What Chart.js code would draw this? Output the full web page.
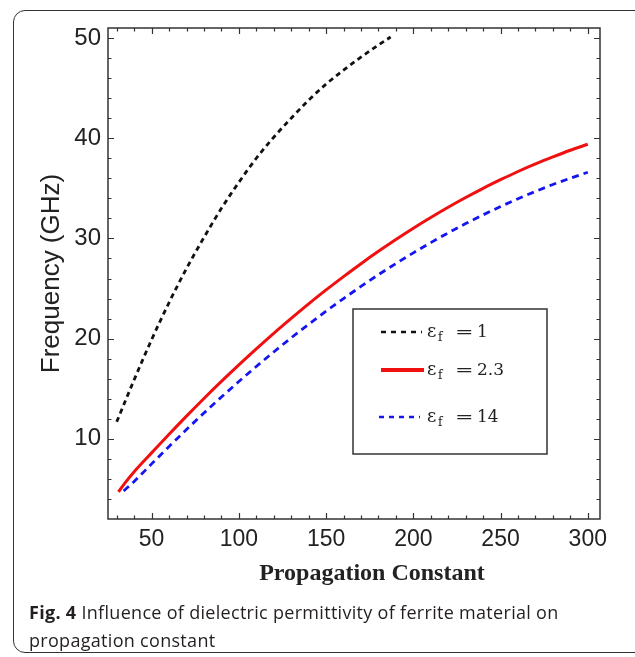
<!DOCTYPE html>
<html>
<head>
<meta charset="utf-8">
<script src="https://cdn.jsdelivr.net/npm/chart.js@4.4.0/dist/chart.umd.min.js"></script>
<style>
  html, body { margin: 0; padding: 0; background: #fff; }
  body { width: 635px; height: 657px; position: relative; overflow: hidden; }
  .frame {
    position: absolute; left: 13px; top: 10px; width: 640px; height: 643px;
    border: 1.5px solid #333; border-radius: 12px; box-sizing: border-box;
  }
  #wrap { position: absolute; left: 0; top: 0; width: 635px; height: 600px; }
  .caption {
    position: absolute; left: 29px; top: 598px; width: 600px;
    font-family: "Open Sans", sans-serif; font-size: 18px; line-height: 28px;
    letter-spacing: 0.3px; color: #231f20;
  }
  .caption b { font-weight: 700; }
</style>
</head>
<body>
<div class="frame"></div>
<div id="wrap"><canvas id="chart"></canvas></div>
<div class="caption"><b>Fig. 4</b> Influence of dielectric permittivity of ferrite material on<br>propagation constant</div>
<script>
// Data
const beta1 = [30, 40, 50, 60, 70, 80, 90, 100, 110, 120, 130, 140, 150, 160, 170, 180, 187];
const freq1 = [11.7, 15.9, 19.9, 23.6, 27.0, 30.1, 33.0, 35.6, 38.0, 40.1, 42.0, 43.8, 45.4, 46.8, 48.1, 49.3, 50.1];

const beta23 = [31, 35, 40, 50, 60, 70, 80, 90, 100, 110, 120, 130, 140, 150, 160, 170, 180, 190, 200, 210, 220, 230, 240, 250, 260, 270, 280, 290, 300];
const freq23 = [4.7, 5.65, 6.72, 8.6, 10.46, 12.27, 14.03, 15.73, 17.38, 18.98, 20.53, 22.02, 23.47, 24.86, 26.19, 27.48, 28.71, 29.89, 31.02, 32.09, 33.11, 34.08, 35.0, 35.86, 36.68, 37.44, 38.14, 38.8, 39.4];

const beta14 = [34, 40, 50, 60, 70, 80, 90, 100, 110, 120, 130, 140, 150, 160, 170, 180, 190, 200, 210, 220, 230, 240, 250, 260, 270, 280, 290, 300];
const freq14 = [4.8, 5.75, 7.5, 9.24, 10.93, 12.58, 14.17, 15.72, 17.22, 18.67, 20.08, 21.43, 22.74, 24.0, 25.21, 26.38, 27.49, 28.56, 29.58, 30.55, 31.48, 32.35, 33.18, 33.96, 34.69, 35.38, 36.01, 36.6];

const xMajor = [50, 100, 150, 200, 250, 300];
const yMajor = [10, 20, 30, 40, 50];
const xMinorStep = 10;
const yMinorStep = 2;

const legendLabels = ['1', '2.3', '14'];

function pts(xs, ys) {
  return xs.map((x, i) => ({ x: x, y: ys[i] }));
}

// inward ticks on all four sides, frame, and the boxed legend
const frameTicks = {
  id: 'frameTicks',
  afterDraw(chart) {
    const ctx = chart.ctx;
    const a = chart.chartArea;
    const xs = chart.scales.x, ys = chart.scales.y;
    ctx.save();
    ctx.strokeStyle = '#333';
    ctx.lineWidth = 1.5;
    ctx.strokeRect(a.left, a.top, a.right - a.left, a.bottom - a.top);
    ctx.lineWidth = 1.2;
    ctx.beginPath();
    for (let v = 30; v <= 300; v += xMinorStep) {
      const px = Math.round(xs.getPixelForValue(v)) + 0.5;
      const len = xMajor.includes(v) ? 6 : 3.5;
      ctx.moveTo(px, a.bottom); ctx.lineTo(px, a.bottom - len);
      ctx.moveTo(px, a.top); ctx.lineTo(px, a.top + len);
    }
    for (let v = 4; v <= 50; v += yMinorStep) {
      const py = Math.round(ys.getPixelForValue(v)) + 0.5;
      const len = yMajor.includes(v) ? 6 : 3.5;
      ctx.moveTo(a.left, py); ctx.lineTo(a.left + len, py);
      ctx.moveTo(a.right, py); ctx.lineTo(a.right - len, py);
    }
    ctx.stroke();

    // legend box
    const bx = 353, by = 309, bw = 194, bh = 145;
    ctx.lineWidth = 1.5;
    ctx.strokeStyle = '#333';
    ctx.strokeRect(bx, by, bw, bh);
    const rows = [
      { y: 332, color: '#111', dash: [5, 5], width: 2.5, x0: 381, x1: 422 },
      { y: 370, color: '#f01010', dash: [], width: 4, x0: 381, x1: 424 },
      { y: 417, color: '#1515f0', dash: [5, 5], width: 2.5, x0: 379, x1: 420 }
    ];
    rows.forEach((r, i) => {
      ctx.beginPath();
      ctx.setLineDash(r.dash);
      ctx.strokeStyle = r.color;
      ctx.lineWidth = r.width;
      ctx.moveTo(r.x0, r.y); ctx.lineTo(r.x1, r.y);
      ctx.stroke();
      ctx.setLineDash([]);
      const base = r.y + 5;
      ctx.fillStyle = '#222';
      ctx.textBaseline = 'alphabetic';
      ctx.textAlign = 'left';
      ctx.font = '18px "DejaVu Serif", serif';
      ctx.fillText('\u03b5', 427, base);
      ctx.font = '12px "DejaVu Serif", serif';
      ctx.fillText('f', 438, base + 4);
      ctx.font = '17px "DejaVu Serif", serif';
      ctx.save();
      ctx.translate(455, 0);
      ctx.scale(1.3, 1);
      ctx.fillText('=', 0, base);
      ctx.restore();
      ctx.fillText(legendLabels[i], 477, base);
    });
    ctx.restore();
  }
};

const ctx = document.getElementById('chart').getContext('2d');
const chart = new Chart(ctx, {
  type: 'line',
  data: {
    datasets: [{
      label: '\u03b5f = 1',
      data: pts(beta1, freq1),
      borderColor: '#111',
      borderWidth: 2.8,
      borderDash: [5, 4],
      pointRadius: 0,
      cubicInterpolationMode: 'monotone',
      fill: false
    }, {
      label: '\u03b5f = 2.3',
      data: pts(beta23, freq23),
      borderColor: '#f01010',
      borderWidth: 3,
      pointRadius: 0,
      cubicInterpolationMode: 'monotone',
      fill: false
    }, {
      label: '\u03b5f = 14',
      data: pts(beta14, freq14),
      borderColor: '#1515f0',
      borderWidth: 2.8,
      borderDash: [7, 5],
      pointRadius: 0,
      cubicInterpolationMode: 'monotone',
      fill: false
    }]
  },
  options: {
    responsive: true,
    maintainAspectRatio: false,
    animation: false,
    layout: { padding: { left: 0, top: 28, right: 35, bottom: 6 } },
    plugins: {
      legend: { display: false },
      tooltip: { enabled: false }
    },
    scales: {
      x: {
        type: 'linear',
        min: 25,
        max: 307,
        afterFit(s) { s.height = 75; },
        afterBuildTicks(s) { s.ticks = xMajor.map(v => ({ value: v })); },
        grid: { display: false, drawTicks: false, tickLength: 0 },
        border: { display: false },
        ticks: {
          padding: 7,
          maxRotation: 0,
          color: '#222',
          font: { family: '"Liberation Sans", Arial, sans-serif', size: 23 }
        },
        title: {
          display: true,
          text: '      Propagation Constant',
          color: '#222',
          padding: { top: 0, bottom: 6 },
          font: { family: '"Liberation Serif", "Times New Roman", serif', size: 24, weight: 'bold' }
        }
      },
      y: {
        type: 'linear',
        min: 2,
        max: 51,
        afterFit(s) { s.width = 108; },
        afterBuildTicks(s) { s.ticks = yMajor.map(v => ({ value: v })); },
        grid: { display: false, drawTicks: false, tickLength: 0 },
        border: { display: false },
        ticks: {
          padding: 7,
          color: '#222',
          font: { family: '"Liberation Sans", Arial, sans-serif', size: 24 }
        },
        title: {
          display: true,
          text: 'Frequency (GHz)',
          color: '#222',
          padding: { top: 36, bottom: 0 },
          font: { family: '"Liberation Sans", Arial, sans-serif', size: 26 }
        }
      }
    }
  },
  plugins: [frameTicks]
});
</script>
</body>
</html>
